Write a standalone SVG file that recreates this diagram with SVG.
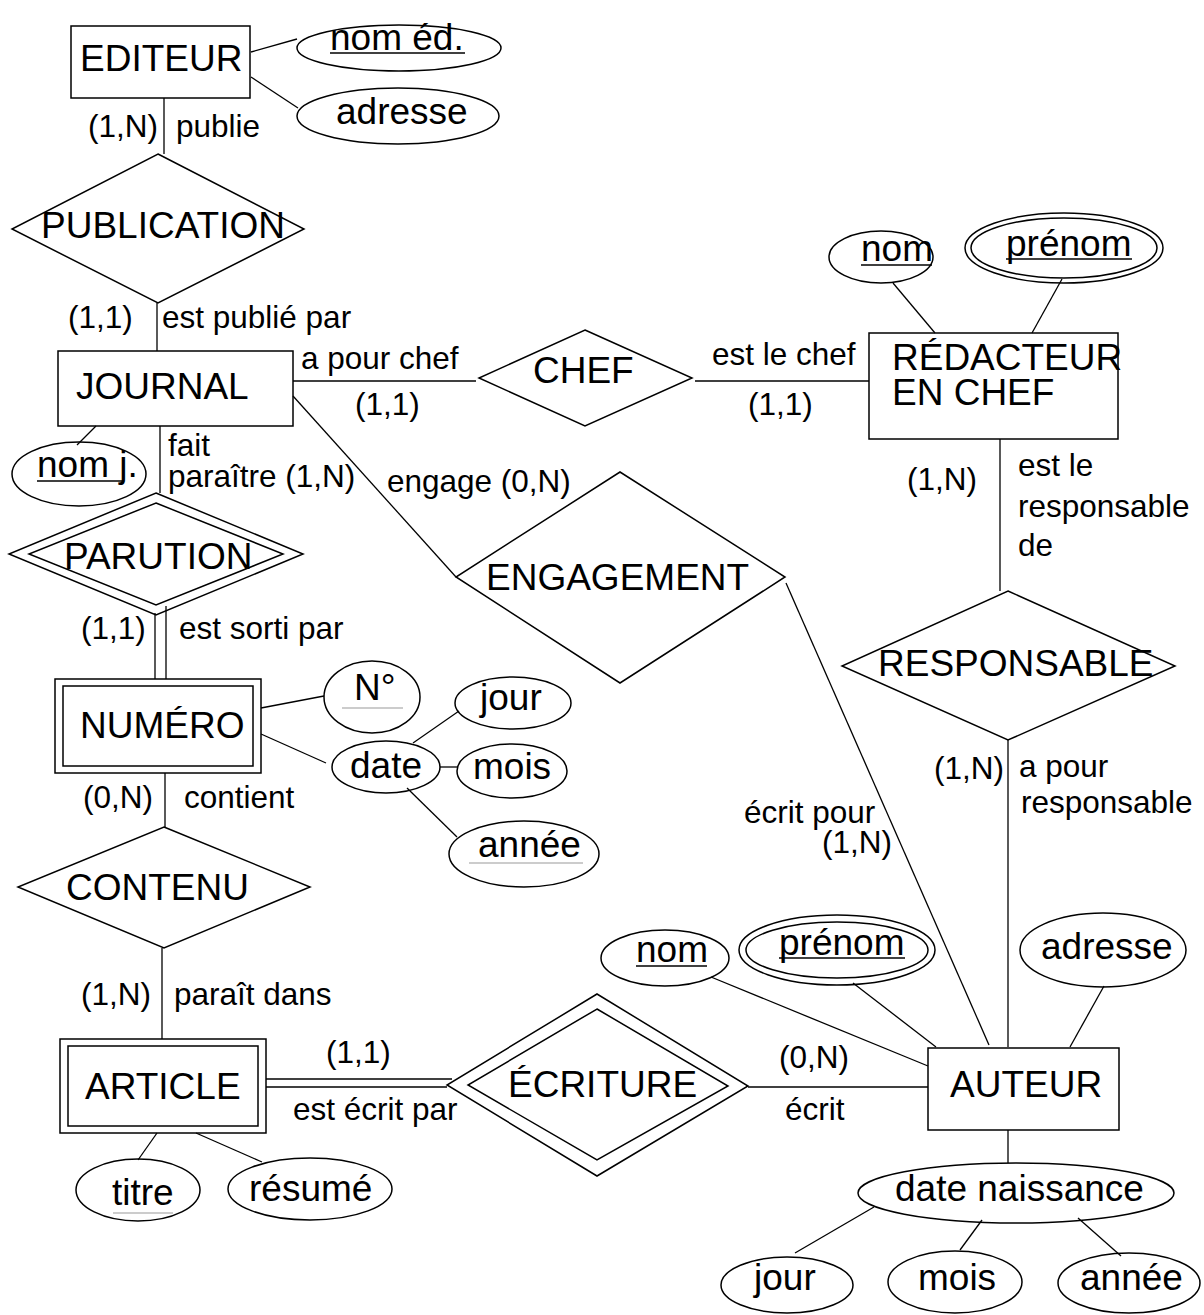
<svg xmlns="http://www.w3.org/2000/svg" width="1204" height="1315" viewBox="0 0 1204 1315">
<style>
.s{fill:none;stroke:#000;stroke-width:1.5}
.ln{fill:none;stroke:#000;stroke-width:1.3}
.u{stroke:#000;stroke-width:1.5}
.g{stroke:#bbb;stroke-width:1.5}
text{font-family:"Liberation Sans",Arial,sans-serif;fill:#000}
.t{font-size:37px}
.l{font-size:31.5px}
</style>
<rect width="1204" height="1315" fill="#fff"/>
<g id="connectors">
<line class="ln" x1="251" y1="52" x2="297" y2="39"/>
<line class="ln" x1="251" y1="77" x2="298" y2="108"/>
<line class="ln" x1="164" y1="98" x2="164" y2="154"/>
<line class="ln" x1="157" y1="303" x2="157" y2="351"/>
<line class="ln" x1="96" y1="426" x2="77" y2="445"/>
<line class="ln" x1="160" y1="426" x2="160" y2="493"/>
<line class="ln" x1="155" y1="613" x2="155" y2="679"/>
<line class="ln" x1="166" y1="606" x2="166" y2="679"/>
<line class="ln" x1="261" y1="708" x2="324" y2="696"/>
<line class="ln" x1="261" y1="734" x2="326" y2="763"/>
<line class="ln" x1="413" y1="743" x2="459" y2="711"/>
<line class="ln" x1="440" y1="767" x2="458" y2="767"/>
<line class="ln" x1="407" y1="788" x2="457" y2="837"/>
<line class="ln" x1="165" y1="773" x2="165" y2="827"/>
<line class="ln" x1="162" y1="948" x2="162" y2="1039"/>
<line class="ln" x1="157" y1="1133" x2="138" y2="1160"/>
<line class="ln" x1="196" y1="1133" x2="262" y2="1162"/>
<line class="ln" x1="266" y1="1079" x2="452" y2="1079"/>
<line class="ln" x1="266" y1="1087" x2="447" y2="1087"/>
<line class="ln" x1="748" y1="1087" x2="928" y2="1087"/>
<line class="ln" x1="293" y1="381" x2="476" y2="381"/>
<line class="ln" x1="695" y1="381" x2="869" y2="381"/>
<line class="ln" x1="293" y1="396" x2="456" y2="577"/>
<line class="ln" x1="786" y1="583" x2="989" y2="1045"/>
<line class="ln" x1="1000" y1="439" x2="1000" y2="591"/>
<line class="ln" x1="1008" y1="740" x2="1008" y2="1047"/>
<line class="ln" x1="893" y1="283" x2="935" y2="333"/>
<line class="ln" x1="1062" y1="279" x2="1032" y2="333"/>
<line class="ln" x1="711" y1="977" x2="928" y2="1066"/>
<line class="ln" x1="853" y1="983" x2="936" y2="1047"/>
<line class="ln" x1="1104" y1="986" x2="1070" y2="1047"/>
<line class="ln" x1="1008" y1="1130" x2="1008" y2="1163"/>
<line class="ln" x1="874" y1="1207" x2="795" y2="1253"/>
<line class="ln" x1="982" y1="1220" x2="960" y2="1250"/>
<line class="ln" x1="1078" y1="1218" x2="1121" y2="1256"/>
</g>
<g id="labels">
<text class="l" x="88" y="137">(1,N)</text>
<text class="l" x="176" y="137">publie</text>
<text class="l" x="68" y="328">(1,1)</text>
<text class="l" x="162" y="328">est publié par</text>
<text class="l" x="168" y="456">fait</text>
<text class="l" x="168" y="487">paraître (1,N)</text>
<text class="l" x="81" y="639">(1,1)</text>
<text class="l" x="179" y="639">est sorti par</text>
<text class="l" x="83" y="808">(0,N)</text>
<text class="l" x="184" y="808">contient</text>
<text class="l" x="81" y="1005">(1,N)</text>
<text class="l" x="174" y="1005">paraît dans</text>
<text class="l" x="326" y="1063">(1,1)</text>
<text class="l" x="293" y="1120">est écrit par</text>
<text class="l" x="779" y="1068">(0,N)</text>
<text class="l" x="785" y="1120">écrit</text>
<text class="l" x="301" y="369">a pour chef</text>
<text class="l" x="355" y="415">(1,1)</text>
<text class="l" x="712" y="365">est le chef</text>
<text class="l" x="748" y="415">(1,1)</text>
<text class="l" x="387" y="492">engage (0,N)</text>
<text class="l" x="907" y="490">(1,N)</text>
<text class="l" x="1018" y="476">est le</text>
<text class="l" x="1018" y="517">responsable</text>
<text class="l" x="1018" y="556">de</text>
<text class="l" x="934" y="779">(1,N)</text>
<text class="l" x="1019" y="777">a pour</text>
<text class="l" x="1021" y="813">responsable</text>
<text class="l" x="744" y="823">écrit pour</text>
<text class="l" x="822" y="853">(1,N)</text>
</g>
<g id="EDITEUR"><rect class="s" x="71" y="26" width="179" height="72"/><text class="t" x="80" y="71">EDITEUR</text></g>
<g id="nom_ed"><ellipse class="s" cx="399" cy="48" rx="102" ry="23"/><text class="t" x="330" y="50">nom éd.</text><line class="u" x1="330" y1="53" x2="465" y2="53"/></g>
<g id="adresse_ed"><ellipse class="s" cx="398" cy="116" rx="101" ry="28"/><text class="t" x="336" y="124">adresse</text></g>
<g id="PUBLICATION"><polygon class="s" points="158,154 304,229 158,303 12,229"/><text class="t" x="41" y="238">PUBLICATION</text></g>
<g id="JOURNAL"><rect class="s" x="58" y="351" width="235" height="75"/><text class="t" x="76" y="399">JOURNAL</text></g>
<g id="nom_j"><ellipse class="s" cx="79" cy="474" rx="67" ry="32"/><text class="t" x="37" y="477">nom j.</text><line class="u" x1="37" y1="481" x2="123" y2="481"/></g>
<g id="PARUTION"><polygon class="s" points="156,493 303,554 156,615 9,554"/><polygon class="s" points="156,503 283,554 156,605 29,554"/><text class="t" x="64" y="569">PARUTION</text></g>
<g id="NUMERO"><rect class="s" x="55" y="679" width="206" height="94"/><rect class="s" x="63" y="686" width="190" height="80"/><text class="t" x="80" y="738">NUMÉRO</text></g>
<g id="N_num"><ellipse class="s" cx="372" cy="697" rx="48" ry="36"/><text class="t" x="354" y="700">N°</text><line class="g" x1="342" y1="708" x2="403" y2="708"/></g>
<g id="date"><ellipse class="s" cx="386" cy="767" rx="54" ry="26"/><text class="t" x="350" y="778">date</text></g>
<g id="jour_num"><ellipse class="s" cx="513" cy="703" rx="58" ry="26"/><text class="t" x="480" y="710">jour</text></g>
<g id="mois_num"><ellipse class="s" cx="512" cy="771" rx="55" ry="27"/><text class="t" x="473" y="779">mois</text></g>
<g id="annee_num"><ellipse class="s" cx="524" cy="854" rx="75" ry="33"/><text class="t" x="478" y="857">année</text><line class="g" x1="469" y1="863" x2="583" y2="863"/></g>
<g id="CONTENU"><polygon class="s" points="164,827 310,887 164,948 18,887"/><text class="t" x="66" y="900">CONTENU</text></g>
<g id="ARTICLE"><rect class="s" x="60" y="1039" width="206" height="94"/><rect class="s" x="68" y="1046" width="190" height="80"/><text class="t" x="85" y="1099">ARTICLE</text></g>
<g id="titre"><ellipse class="s" cx="138" cy="1190" rx="62" ry="31"/><text class="t" x="112" y="1205">titre</text><line class="g" x1="113" y1="1213" x2="173" y2="1213"/></g>
<g id="resume"><ellipse class="s" cx="310" cy="1189" rx="82" ry="31"/><text class="t" x="249" y="1201">résumé</text></g>
<g id="ECRITURE"><polygon class="s" points="597,994 748,1086 597,1176 447,1085"/><polygon class="s" points="597,1009 728,1086 597,1160 468,1085"/><text class="t" x="508" y="1097">ÉCRITURE</text></g>
<g id="CHEF"><polygon class="s" points="585,330 692,378 585,426 479,378"/><text class="t" x="533" y="383">CHEF</text></g>
<g id="ENGAGEMENT"><polygon class="s" points="620,472 785,577 620,683 456,577"/><text class="t" x="486" y="590">ENGAGEMENT</text></g>
<g id="REDACTEUR"><rect class="s" x="869" y="333" width="249" height="106"/><text class="t" x="892" y="370">RÉDACTEUR</text><text class="t" x="892" y="405">EN CHEF</text></g>
<g id="nom_red"><ellipse class="s" cx="881" cy="257" rx="52" ry="26"/><text class="t" x="861" y="261">nom</text><line class="u" x1="861" y1="265" x2="932" y2="265"/></g>
<g id="prenom_red"><ellipse class="s" cx="1064" cy="248" rx="99" ry="35"/><ellipse class="s" cx="1064" cy="248" rx="93" ry="30"/><text class="t" x="1006" y="256">prénom</text><line class="u" x1="1006" y1="259" x2="1132" y2="259"/></g>
<g id="RESPONSABLE"><polygon class="s" points="1008,591 1175,666 1008,740 842,666"/><text class="t" x="878" y="676">RESPONSABLE</text></g>
<g id="AUTEUR"><rect class="s" x="928" y="1048" width="191" height="82"/><text class="t" x="950" y="1097">AUTEUR</text></g>
<g id="nom_aut"><ellipse class="s" cx="665" cy="958" rx="64" ry="28"/><text class="t" x="636" y="962">nom</text><line class="u" x1="636" y1="966" x2="707" y2="966"/></g>
<g id="prenom_aut"><ellipse class="s" cx="837" cy="950" rx="98" ry="35"/><ellipse class="s" cx="837" cy="950" rx="91" ry="28"/><text class="t" x="779" y="955">prénom</text><line class="u" x1="779" y1="958" x2="905" y2="958"/></g>
<g id="adresse_aut"><ellipse class="s" cx="1103" cy="950" rx="83" ry="37"/><text class="t" x="1041" y="959">adresse</text></g>
<g id="date_naissance"><ellipse class="s" cx="1016" cy="1193" rx="158" ry="30"/><text class="t" x="895" y="1201">date naissance</text></g>
<g id="jour_aut"><ellipse class="s" cx="787" cy="1285" rx="66" ry="28"/><text class="t" x="754" y="1290">jour</text></g>
<g id="mois_aut"><ellipse class="s" cx="955" cy="1282" rx="67" ry="31"/><text class="t" x="918" y="1290">mois</text></g>
<g id="annee_aut"><ellipse class="s" cx="1129" cy="1283" rx="71" ry="30"/><text class="t" x="1080" y="1290">année</text></g>
</svg>
